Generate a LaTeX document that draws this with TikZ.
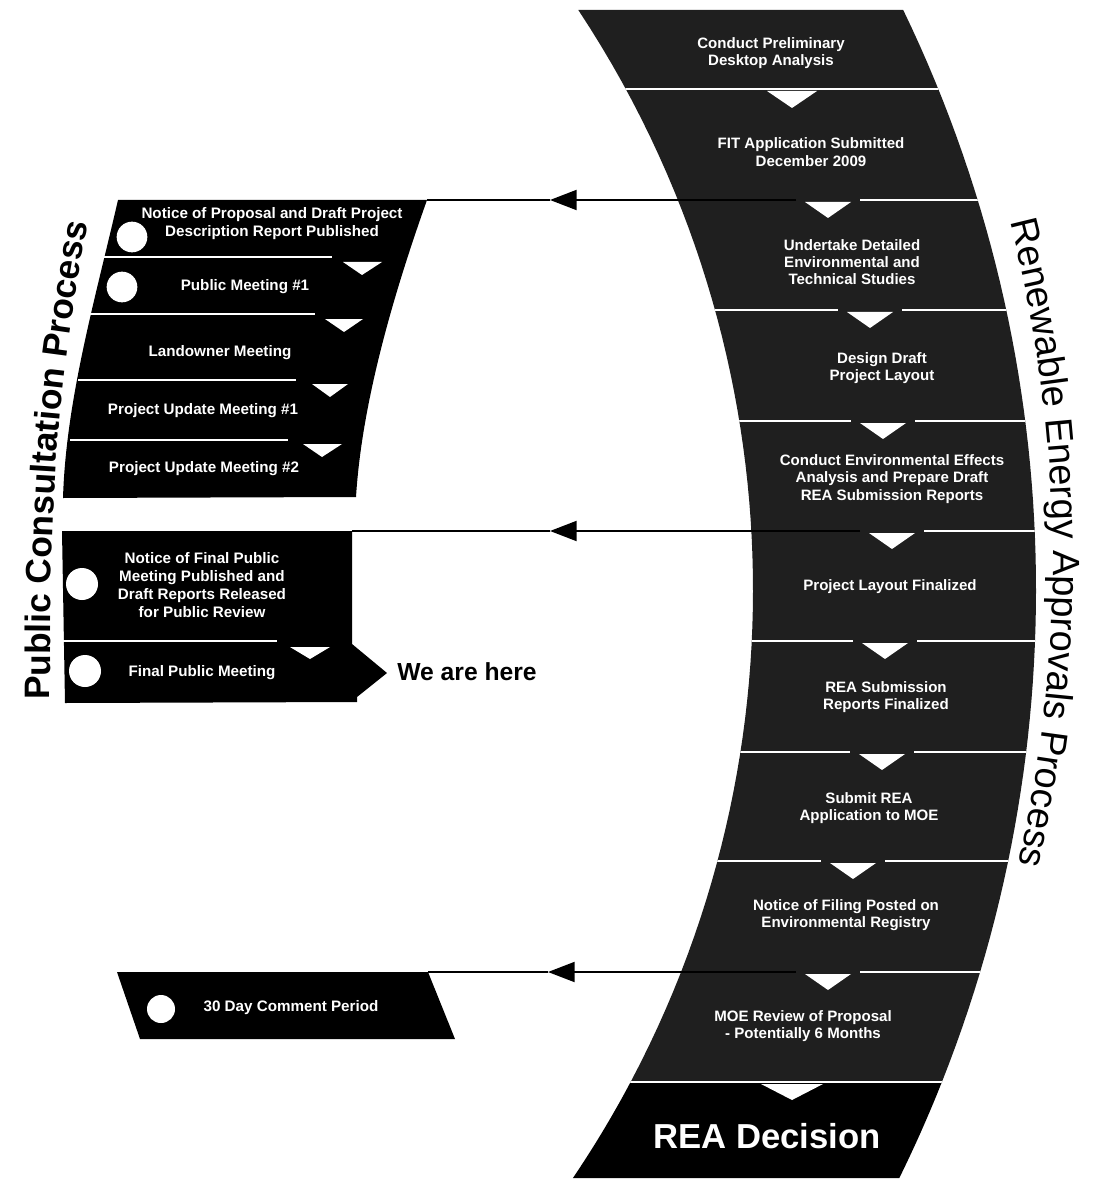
\documentclass[tikz,border=0pt]{standalone}
\usepackage{fontspec}
\setmainfont{Liberation Sans}
\usetikzlibrary{arrows.meta,decorations.text}
\begin{document}
\begin{tikzpicture}[x=0.75pt,y=-0.75pt,
  bandfill/.style={fill=black!88},
  finalfill/.style={fill=black},
  boxfill/.style={fill=black},
  divider/.style={draw=white, line width=2pt},
  ldivider/.style={draw=white, line width=1.5pt},
  chevron/.style={fill=white},
  bandtxt/.style={text=white, font=\bfseries\fontsize{11.3}{13}\selectfont, align=center, inner sep=0pt},
  boxtxt/.style={text=white, font=\bfseries\fontsize{11.4}{13.5}\selectfont, align=center, inner sep=0pt},
  dot/.style={circle, fill=white, inner sep=0pt, minimum size=#1},
  dot/.default=23pt,
  conn/.style={draw=black, line width=1.5pt},
  tipL/.style={-{Triangle[length=20pt,width=15pt]}}
]
\useasboundingbox (0,0) rectangle (1103,1180);

% ---------------- right band ----------------
\path[bandfill] plot[domain=10:1082,samples=60] ({-297+1050*sqrt(1-((\x-590)/1050)^2)},\x)
  -- plot[domain=1082:10,samples=60] ({-297+1333*sqrt(1-((\x-590)/1333)^2)},\x) -- cycle;
\path[finalfill] plot[domain=1082:1178,samples=20] ({-297+1050*sqrt(1-((\x-590)/1050)^2)},\x)
  -- plot[domain=1178:1082,samples=20] ({-297+1333*sqrt(1-((\x-590)/1333)^2)},\x) -- cycle;

\begin{scope}
\clip plot[domain=10:1178,samples=80] ({-297+1050*sqrt(1-((\x-590)/1050)^2)},\x)
  -- plot[domain=1178:10,samples=80] ({-297+1333*sqrt(1-((\x-590)/1333)^2)},\x) -- cycle;
\draw[divider] (500,89) -- (1100,89);
\draw[divider] (860,200) -- (1100,200);
\draw[divider] (500,310) -- (838,310) (902,310) -- (1100,310);
\draw[divider] (500,421) -- (851,421) (915,421) -- (1100,421);
\draw[divider] (924,531) -- (1100,531);
\draw[divider] (500,641) -- (853,641) (917,641) -- (1100,641);
\draw[divider] (500,752) -- (850,752) (914,752) -- (1100,752);
\draw[divider] (500,861) -- (821,861) (885,861) -- (1100,861);
\draw[divider] (860,972) -- (1100,972);
\draw[divider] (500,1082) -- (1100,1082);
\end{scope}

\fill[chevron] (767,91) -- (817,91) -- (792,108) -- cycle;
\fill[chevron] (805,202) -- (851,202) -- (828,218) -- cycle;
\fill[chevron] (847,312) -- (893,312) -- (870,328) -- cycle;
\fill[chevron] (860,423) -- (906,423) -- (883,439) -- cycle;
\fill[chevron] (869,533) -- (915,533) -- (892,549) -- cycle;
\fill[chevron] (862,643) -- (908,643) -- (885,659) -- cycle;
\fill[chevron] (859,754) -- (905,754) -- (882,770) -- cycle;
\fill[chevron] (830,863) -- (876,863) -- (853,879) -- cycle;
\fill[chevron] (805,974) -- (851,974) -- (828,990) -- cycle;
\fill[chevron] (761,1084) -- (823,1084) -- (792,1100) -- cycle;

\node[bandtxt] (s1) at (771,53) {Conduct Preliminary\\Desktop Analysis};
\node[bandtxt] (s2) at (811,152) {FIT Application Submitted\\December 2009};
\node[bandtxt] (s3) at (852,262) {Undertake Detailed\\Environmental and\\Technical Studies};
\node[bandtxt] (s4) at (882,368) {Design Draft\\Project Layout};
\node[bandtxt] (s5) at (892,479) {Conduct Environmental Effects\\Analysis and Prepare Draft\\REA Submission Reports};
\node[bandtxt] (s6) at (890,587) {Project Layout Finalized};
\node[bandtxt] (s7) at (886,697) {REA Submission\\Reports Finalized};
\node[bandtxt] (s8) at (869,808) {Submit REA\\Application to MOE};
\node[bandtxt] (s9) at (846,915) {Notice of Filing Posted on\\Environmental Registry};
\node[bandtxt] (s10) at (803,1026) {MOE Review of Proposal\\- Potentially 6 Months};
\node[text=white, font=\bfseries\fontsize{26}{30}\selectfont, inner sep=0pt] (s11) at (767,1136) {REA Decision};

% right title along the arc
\path[decorate, decoration={text along path, text align={left indent=0pt},
  text={|\fontsize{28.5}{32}\selectfont|Renewable Energy Approvals Process}}]
  plot[domain=-14.5:16,samples=60,smooth] ({-297+1350*cos(\x)},{560+1350*sin(\x)});

% ---------------- left: upper group ----------------
\path[boxfill] (118,200) -- (427,200) .. controls (395,290) and (362,400) .. (356,497)
  -- (63,498) .. controls (66,400) and (95,300) .. (118,200) -- cycle;
\coordinate (ubtr) at (427,200);

\draw[ldivider] (103,257) -- (332,257);
\fill[chevron] (343,262) -- (382,262) -- (362,275) -- cycle;
\draw[ldivider] (90,314) -- (315,314);
\fill[chevron] (325,319) -- (363,319) -- (344,332) -- cycle;
\draw[ldivider] (78,380) -- (296,380);
\fill[chevron] (312,384) -- (348,384) -- (330,397) -- cycle;
\draw[ldivider] (70,440) -- (288,440);
\fill[chevron] (303,444) -- (342,444) -- (322,457) -- cycle;

\node[dot] (c1) at (132,237) {};
\node[dot] (c2) at (122,287) {};
\node[boxtxt] (p1) at (272,224) {Notice of Proposal and Draft Project\\Description Report Published};
\node[boxtxt] (p2) at (245,287) {Public Meeting \#1};
\node[boxtxt] (p3) at (220,353) {Landowner Meeting};
\node[boxtxt] (p4) at (203,411) {Project Update Meeting \#1};
\node[boxtxt] (p5) at (204,469) {Project Update Meeting \#2};

% ---------------- left: lower group ----------------
\path[boxfill] (62,531) -- (352,531) -- (352,644) -- (387,673) -- (357,697) -- (357,702)
  -- (65,703) -- cycle;
\coordinate (lbtr) at (352,531);
\draw[ldivider] (62,641) -- (277,641);
\fill[chevron] (290,647) -- (330,647) -- (310,659) -- cycle;
\node[dot=24pt] (c3) at (82,584) {};
\node[dot=24pt] (c4) at (85,671) {};
\node[boxtxt] (q1) at (202,585) {Notice of Final Public\\Meeting Published and\\Draft Reports Released\\for Public Review};
\node[boxtxt] (q2) at (202,673) {Final Public Meeting};
\node[font=\bfseries\fontsize{18.5}{22}\selectfont, inner sep=0pt] (here) at (467,672) {We are here};

% ---------------- left: comment period ----------------
\path[boxfill] (117,972) -- (428,972) -- (455,1039) -- (140,1039) -- cycle;
\coordinate (cbtr) at (428,972);
\node[dot=21pt] (c5) at (161,1009) {};
\node[boxtxt] (r1) at (291,1008) {30 Day Comment Period};

% left title
\path[decorate, decoration={text along path, text align={left indent=0pt},
  text={|\fontsize{26.5}{30}\selectfont\bfseries|Public Consultation Process}}]
  (50,700) .. controls (50,500) and (56,380) .. (92,205);

% ---------------- connectors ----------------
\coordinate (g2) at (796,200);
\coordinate (t2) at (550,200);
\coordinate (g5) at (860,531);
\coordinate (t5) at (550,531);
\coordinate (g9) at (796,972);
\coordinate (t9) at (548,972);
\draw[conn,tipL] (g2) -- (t2);
\draw[conn] (t2) -- (ubtr);
\draw[conn,tipL] (g5) -- (t5);
\draw[conn] (t5) -- (lbtr);
\draw[conn,tipL] (g9) -- (t9);
\draw[conn] (t9) -- (cbtr);
\end{tikzpicture}
\end{document}
